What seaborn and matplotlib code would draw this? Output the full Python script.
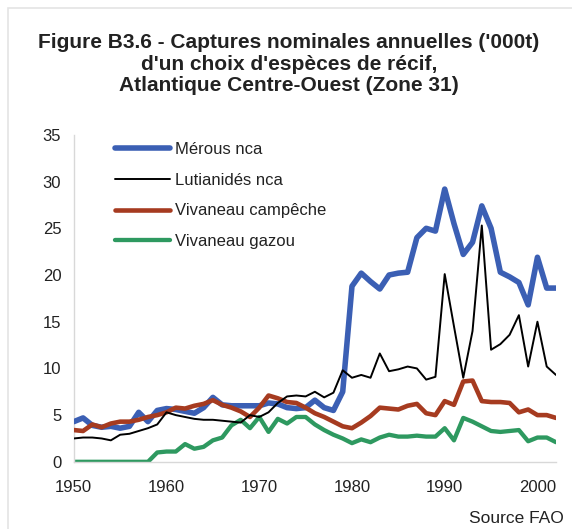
import pandas as pd
import numpy as np
import matplotlib.pyplot as plt
import seaborn as sns

# Annual data 1950-2002, thousand tonnes
years = list(range(1950, 2003))

merous = [4.3, 4.7, 3.9, 3.7, 3.8, 3.6, 3.8, 5.3, 4.3, 5.5,
          5.7, 5.6, 5.4, 5.2, 5.8, 6.9, 6.1, 6.0, 6.0, 6.0,
          6.0, 6.3, 6.2, 5.8, 5.7, 5.8, 6.6, 5.8, 5.5, 7.5,
          18.8, 20.2, 19.3, 18.5, 20.0, 20.2, 20.3, 24.0, 25.0, 24.7,
          29.2, 25.5, 22.2, 23.5, 27.4, 25.0, 20.3, 19.8, 19.2, 16.8,
          21.9, 18.6, 18.6]

lutianides = [2.5, 2.6, 2.6, 2.5, 2.3, 2.9, 3.0, 3.3, 3.6, 4.0,
              5.3, 5.0, 4.8, 4.6, 4.5, 4.5, 4.4, 4.3, 4.2, 5.0,
              4.8, 5.3, 6.3, 7.0, 7.1, 7.0, 7.5, 6.9, 7.4, 9.8,
              9.0, 9.3, 9.0, 11.6, 9.7, 9.9, 10.2, 10.0, 8.8, 9.1,
              20.1, 14.5, 9.0, 14.0, 25.3, 12.0, 12.6, 13.6, 15.7, 10.2,
              15.0, 10.2, 9.3]

campeche = [3.4, 3.3, 4.0, 3.7, 4.1, 4.3, 4.3, 4.5, 4.8, 5.0,
            5.3, 5.8, 5.7, 6.0, 6.2, 6.6, 6.1, 5.8, 5.4, 4.8,
            5.8, 7.1, 6.8, 6.4, 6.3, 5.8, 5.2, 4.8, 4.3, 3.8,
            3.6, 4.2, 4.9, 5.8, 5.7, 5.6, 6.0, 6.2, 5.2, 5.0,
            6.5, 6.1, 8.6, 8.7, 6.5, 6.4, 6.4, 6.3, 5.3, 5.6,
            5.0, 5.0, 4.7]

gazou = [0, 0, 0, 0, 0, 0, 0, 0, 0, 1.0,
         1.1, 1.1, 1.9, 1.4, 1.6, 2.3, 2.6, 3.9, 4.5, 3.6,
         4.8, 3.2, 4.6, 4.1, 4.8, 4.8, 4.0, 3.4, 2.9, 2.5,
         2.0, 2.4, 2.1, 2.6, 2.9, 2.7, 2.7, 2.8, 2.7, 2.7,
         3.6, 2.3, 4.7, 4.3, 3.8, 3.3, 3.2, 3.3, 3.4, 2.2,
         2.6, 2.6, 2.1]

labels = ['Mérous nca', 'Lutianidés nca', 'Vivaneau campêche', 'Vivaneau gazou']
series = [merous, lutianides, campeche, gazou]

df = pd.DataFrame({'year': years})
for lab, vals in zip(labels, series):
    df[lab] = vals

sns.set_style('white')
plt.rcParams['font.family'] = ['Liberation Sans', 'DejaVu Sans']

fig = plt.figure(figsize=(5.72, 5.29), dpi=100)
ax = fig.add_axes([0.129, 0.127, 0.843, 0.618])

# style per line: colour, width, zorder
styles = {
    'Mérous nca': ('#3b5fb4', 4.0, 3),
    'Lutianidés nca': ('black', 1.4, 5),
    'Vivaneau campêche': ('#a63b20', 3.3, 4),
    'Vivaneau gazou': ('#2e9960', 3.1, 2),
}

for lab in labels:
    col, lw, z = styles[lab]
    sns.lineplot(data=df, x='year', y=lab, ax=ax, color=col, linewidth=lw,
                 zorder=z, label=lab)

ax.set_xlim(1950, 2002)
ax.set_ylim(0, 35)
ax.set_xticks(range(1950, 2001, 10))
ax.set_xticks(range(1950, 2003), minor=True)
ax.set_yticks(range(0, 36, 5))
ax.set_xlabel('')
ax.set_ylabel('')

for s in ['top', 'right']:
    ax.spines[s].set_visible(False)
for s in ['left', 'bottom']:
    ax.spines[s].set_color('#d8d8d8')
    ax.spines[s].set_linewidth(1.0)

ax.tick_params(axis='x', which='major', direction='inout', length=6, color='#d0d0d0',
               labelsize=12, pad=10, labelcolor='#222222')
ax.tick_params(axis='x', which='minor', direction='inout', length=4, color='#d8d8d8')
ax.tick_params(axis='y', which='major', direction='out', length=3, color='#d8d8d8',
               labelsize=12, pad=6, labelcolor='#222222')

leg = ax.legend(loc='upper left', bbox_to_anchor=(0.055, 1.025), frameon=False,
                fontsize=12, handlelength=3.3, handletextpad=0.3, labelspacing=0.95)
for t in leg.get_texts():
    t.set_color('#222222')

fig.text(0.505, 0.879, "Figure B3.6 - Captures nominales annuelles ('000t)\n"
         "d'un choix d'espèces de récif,\nAtlantique Centre-Ouest (Zone 31)",
         ha='center', va='center', fontsize=15, fontweight='bold', color='#222222',
         linespacing=1.17)
fig.text(0.985, 0.005, 'Source FAO', ha='right', va='bottom', fontsize=12.5, color='#222222')

# light frame around the whole picture
fig.patches.append(plt.Rectangle((0.014, -0.01), 1.0, 0.995, transform=fig.transFigure,
                                 fill=False, edgecolor='#e4e4e4', linewidth=1.2))

fig.savefig('out.png', dpi=100)
